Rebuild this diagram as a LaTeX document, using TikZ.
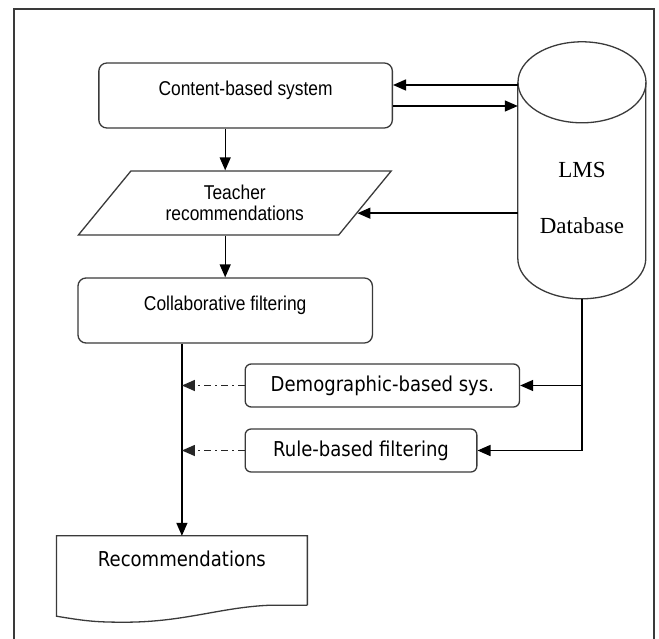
\documentclass[tikz,border=0pt]{standalone}
\usepackage{fontspec}
\newfontfamily\visiofont[FakeStretch=0.87]{Liberation Sans}
\newfontfamily\verdfont[FakeStretch=0.88]{DejaVu Sans}
\newfontfamily\dbfont{Liberation Serif}
\usetikzlibrary{arrows.meta,positioning,shapes.geometric,calc}
\definecolor{edgegray}{HTML}{3A3A3A}

\begin{document}
\begin{tikzpicture}[
    x=1pt, y=-1pt,
    every node/.style={inner sep=0pt},
    sysbox/.style={rectangle, draw=edgegray, fill=white, line width=1.3pt, rounded corners=8pt, minimum height=65pt, font=\visiofont\fontsize{20}{21}\selectfont, text height=14pt, text depth=14pt},
    inbox/.style={trapezium, trapezium left angle=45.6, trapezium right angle=134.4, trapezium stretches=true, draw=edgegray, fill=white, line width=1.3pt, minimum width=313.6pt, minimum height=64pt, align=center, font=\visiofont\fontsize{20}{21}\selectfont},
    filterbox/.style={rectangle, draw=edgegray, fill=white, line width=1.3pt, rounded corners=6pt, minimum height=43pt, font=\verdfont\fontsize{20.5}{24}\selectfont},
    flow/.style={-{Triangle[length=13pt,width=11pt]}, line width=1.4pt},
    extra/.style={-{Triangle[length=13pt,width=11pt]}, line width=1.3pt, black!85, dash pattern=on 7pt off 4pt on 2pt off 4pt}
]
\useasboundingbox (0,0) rectangle (659,639);

% frame
\draw[edgegray, line width=1.5pt] (14,650) -- (14,9) -- (654,9) -- (654,650);

% main chain
\node[sysbox, minimum width=293.5pt] (content) at (245.6,95.5) {Content-based system};
\node[inbox] (para) at (234.8,203) {Teacher\\recommendations};
\node[sysbox, minimum width=294.4pt] (collab) at (225.2,310.5) {Collaborative filtering};

% database
\node[rectangle, minimum width=128pt, minimum height=257pt] (db) at (582,170.5) {};
\draw[edgegray, line width=1.3pt] (db.north west) ++(0,40.5) -- ++(0,176)
    arc (180:0:64 and 40.5) -- ++(0,-176);
\draw[edgegray, line width=1.3pt] (db.north) ++(0,40.5) ellipse (64 and 40.5);
\node[font=\dbfont\fontsize{23}{56}\selectfont, align=center] (dblabel) at (582,198) {LMS\\Database};

% other filters
\node[filterbox, minimum width=274.3pt] (demo) at (382.35,385.5) {Demographic-based sys.};
\node[filterbox, minimum width=231.7pt] (rule) at (361,450.5) {Rule-based filtering};

% output document
\node[inner ysep=0pt, text height=30pt, text depth=39pt, minimum width=250.5pt, font=\verdfont\fontsize{20.5}{24}\selectfont] (recs) at (181.9,570.5) {Recommendations};
\draw[edgegray, line width=1.3pt] (recs.south east) -- (recs.north east) -- (recs.north west) -- ([yshift=-11pt]recs.south west)
    .. controls +(30pt,-5pt) and +(-28pt,0pt) .. ([shift={(68pt,-17pt)}]recs.south west)
    .. controls +(60pt,0pt) and +(-50pt,-2pt) .. ([xshift=-37pt]recs.south east) -- (recs.south east);

% data flows
\draw[flow] ([yshift=10.5pt]content.east -| db.west) -- ([yshift=10.5pt]content.east);
\draw[flow] ([yshift=-10.5pt]content.east) -- ([yshift=-10.5pt]content.east -| db.west);
\coordinate (paraR) at ($(para.bottom right corner)!0.344!(para.top right corner)$);
\draw[flow] (paraR -| db.west) -- (paraR);
\draw[flow] (content.south -| collab) -- (collab |- para.north);
\draw[flow] (collab |- para.south) -- (collab.north);
\draw[flow] (collab.south -| recs) -- (recs.north);
\draw[flow] (db.south) |- (rule.east);
\draw[flow] (db.south |- demo.east) -- (demo.east);

% side inputs
\draw[extra] (demo.west) -- (demo.west -| recs);
\draw[extra] (rule.west) -- (rule.west -| recs);

\end{tikzpicture}
\end{document}
